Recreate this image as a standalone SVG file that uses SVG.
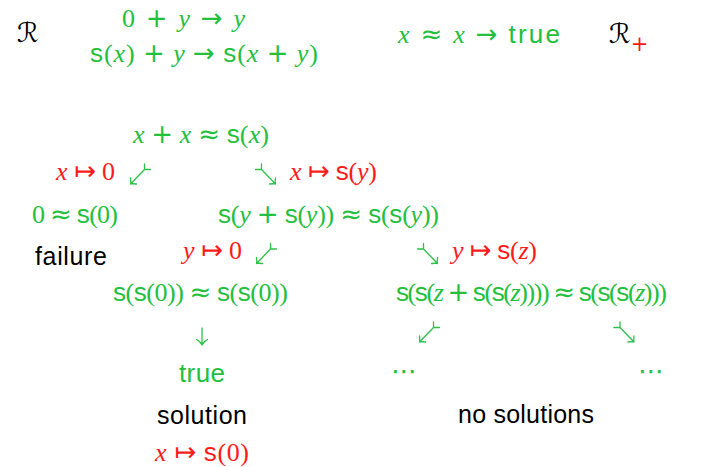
<svg xmlns="http://www.w3.org/2000/svg" xmlns:xlink="http://www.w3.org/1999/xlink" width="721" height="467" viewBox="0 0 721 467">
<style>
text { font-size: 26px; }
.m { font-family: "Liberation Serif", "DejaVu Serif", serif; }
.i { font-style: italic; }
.s { font-family: "Liberation Sans", "DejaVu Sans", sans-serif; font-style: normal; }
.o { font-family: "DejaVu Sans", sans-serif; font-style: normal; }
.lbl { font-family: "Liberation Sans", "DejaVu Sans", sans-serif; font-size: 25px; fill: #000; }
.cal { font-family: "DejaVu Serif", "DejaVu Sans", serif; font-size: 27px; fill: #000; }
.g { fill: #22c03c; }
.r { fill: #ff1a1a; }
.arr { fill: none; stroke: #2ec24a; stroke-width: 1.3; stroke-linecap: round; stroke-linejoin: round; }
</style>
<defs>
  <path id="sw" d="M14.5,6 L0.5,20.5 M0.5,14.5 Q1,19.5 0.5,20.5 Q1.5,20 6.5,20.5 M14.5,6 L14.5,0.5 M14.5,6 L20.5,6"/>
  <path id="se" d="M6.5,6 L20.5,20.5 M20.5,14.5 Q20,19.5 20.5,20.5 Q19.5,20 14.5,20.5 M6.5,6 L6.5,0.5 M6.5,6 L0.5,6"/>
</defs>

<g id="rules">
  <text class="cal" x="17" y="42">ℛ</text>
  <text class="m g" x="122" y="27" textLength="123">0 <tspan class="o">+</tspan> <tspan class="i">y</tspan>  <tspan class="o">→</tspan>  <tspan class="i">y</tspan></text>
  <text class="m g" x="90" y="62" textLength="228"><tspan class="s">s</tspan>(<tspan class="i">x</tspan>) <tspan class="o">+</tspan> <tspan class="i">y</tspan>  <tspan class="o">→</tspan>  <tspan class="s">s</tspan>(<tspan class="i">x</tspan> <tspan class="o">+</tspan> <tspan class="i">y</tspan>)</text>
  <text class="m g" x="398" y="43" textLength="162"><tspan class="i">x</tspan> <tspan class="o">≈</tspan> <tspan class="i">x</tspan>  <tspan class="o">→</tspan>  <tspan class="s">true</tspan></text>
  <text class="cal" x="609" y="43">ℛ</text>
  <text class="o r" x="639.5" y="51" text-anchor="middle" style="font-size:21px">+</text>
</g>

<g id="root">
  <text class="m g" x="133" y="143" textLength="136"><tspan class="i">x</tspan> <tspan class="o">+</tspan> <tspan class="i">x</tspan> <tspan class="o">≈</tspan> <tspan class="s">s</tspan>(<tspan class="i">x</tspan>)</text>
</g>
<g id="fail-node">
  <text class="m g" x="32" y="223" textLength="86">0 <tspan class="o">≈</tspan> <tspan class="s">s</tspan>(0)</text>
  <text class="lbl" x="35" y="265" textLength="72">failure</text>
</g>
<g id="mid-node">
  <text class="m g" x="218" y="223" textLength="221"><tspan class="s">s</tspan>(<tspan class="i">y</tspan> <tspan class="o">+</tspan> <tspan class="s">s</tspan>(<tspan class="i">y</tspan>)) <tspan class="o">≈</tspan> <tspan class="s">s</tspan>(<tspan class="s">s</tspan>(<tspan class="i">y</tspan>))</text>
</g>
<g id="left-node">
  <text class="m g" x="113" y="301" textLength="175"><tspan class="s">s</tspan>(<tspan class="s">s</tspan>(0)) <tspan class="o">≈</tspan> <tspan class="s">s</tspan>(<tspan class="s">s</tspan>(0))</text>
</g>
<g id="right-node">
  <text class="m g" x="396" y="301" textLength="271"><tspan class="s">s</tspan>(<tspan class="s">s</tspan>(<tspan class="i">z</tspan> <tspan class="o">+</tspan> <tspan class="s">s</tspan>(<tspan class="s">s</tspan>(<tspan class="i">z</tspan>)))) <tspan class="o">≈</tspan> <tspan class="s">s</tspan>(<tspan class="s">s</tspan>(<tspan class="s">s</tspan>(<tspan class="i">z</tspan>)))</text>
</g>
<g id="true-node">
  <text class="s g" x="179" y="382" textLength="46">true</text>
  <text class="lbl" x="157" y="424" textLength="90">solution</text>
  <text class="m r" x="155" y="461" textLength="94"><tspan class="i">x</tspan> <tspan class="o">↦</tspan> <tspan class="s">s</tspan>(0)</text>
</g>
<g id="dots-left">
  <text class="o g" x="391" y="380" textLength="24">⋯</text>
</g>
<g id="dots-right">
  <text class="o g" x="638" y="380" textLength="25">⋯</text>
</g>
<g id="no-solutions">
  <text class="lbl" x="458" y="423" textLength="136">no solutions</text>
</g>

<g id="connectors">
  <use xlink:href="#sw" class="arr" x="130" y="163.5"/>
  <use xlink:href="#se" class="arr" x="255" y="163.5"/>
  <use xlink:href="#sw" class="arr" x="256" y="243"/>
  <use xlink:href="#se" class="arr" x="417" y="243"/>
  <use xlink:href="#sw" class="arr" x="419" y="321.5"/>
  <use xlink:href="#se" class="arr" x="613.5" y="321.5"/>
  <path class="arr" d="M202,328 L202,345 M196.5,339.5 Q201,342 202,345 Q203,342 207.5,339.5"/>
  <text class="m r" x="56" y="180" textLength="59"><tspan class="i">x</tspan> <tspan class="o">↦</tspan> 0</text>
  <text class="m r" x="290" y="180" textLength="87"><tspan class="i">x</tspan> <tspan class="o">↦</tspan> <tspan class="s">s</tspan>(<tspan class="i">y</tspan>)</text>
  <text class="m r" x="183" y="259" textLength="59"><tspan class="i">y</tspan> <tspan class="o">↦</tspan> 0</text>
  <text class="m r" x="452" y="259" textLength="85"><tspan class="i">y</tspan> <tspan class="o">↦</tspan> <tspan class="s">s</tspan>(<tspan class="i">z</tspan>)</text>
</g>
</svg>
